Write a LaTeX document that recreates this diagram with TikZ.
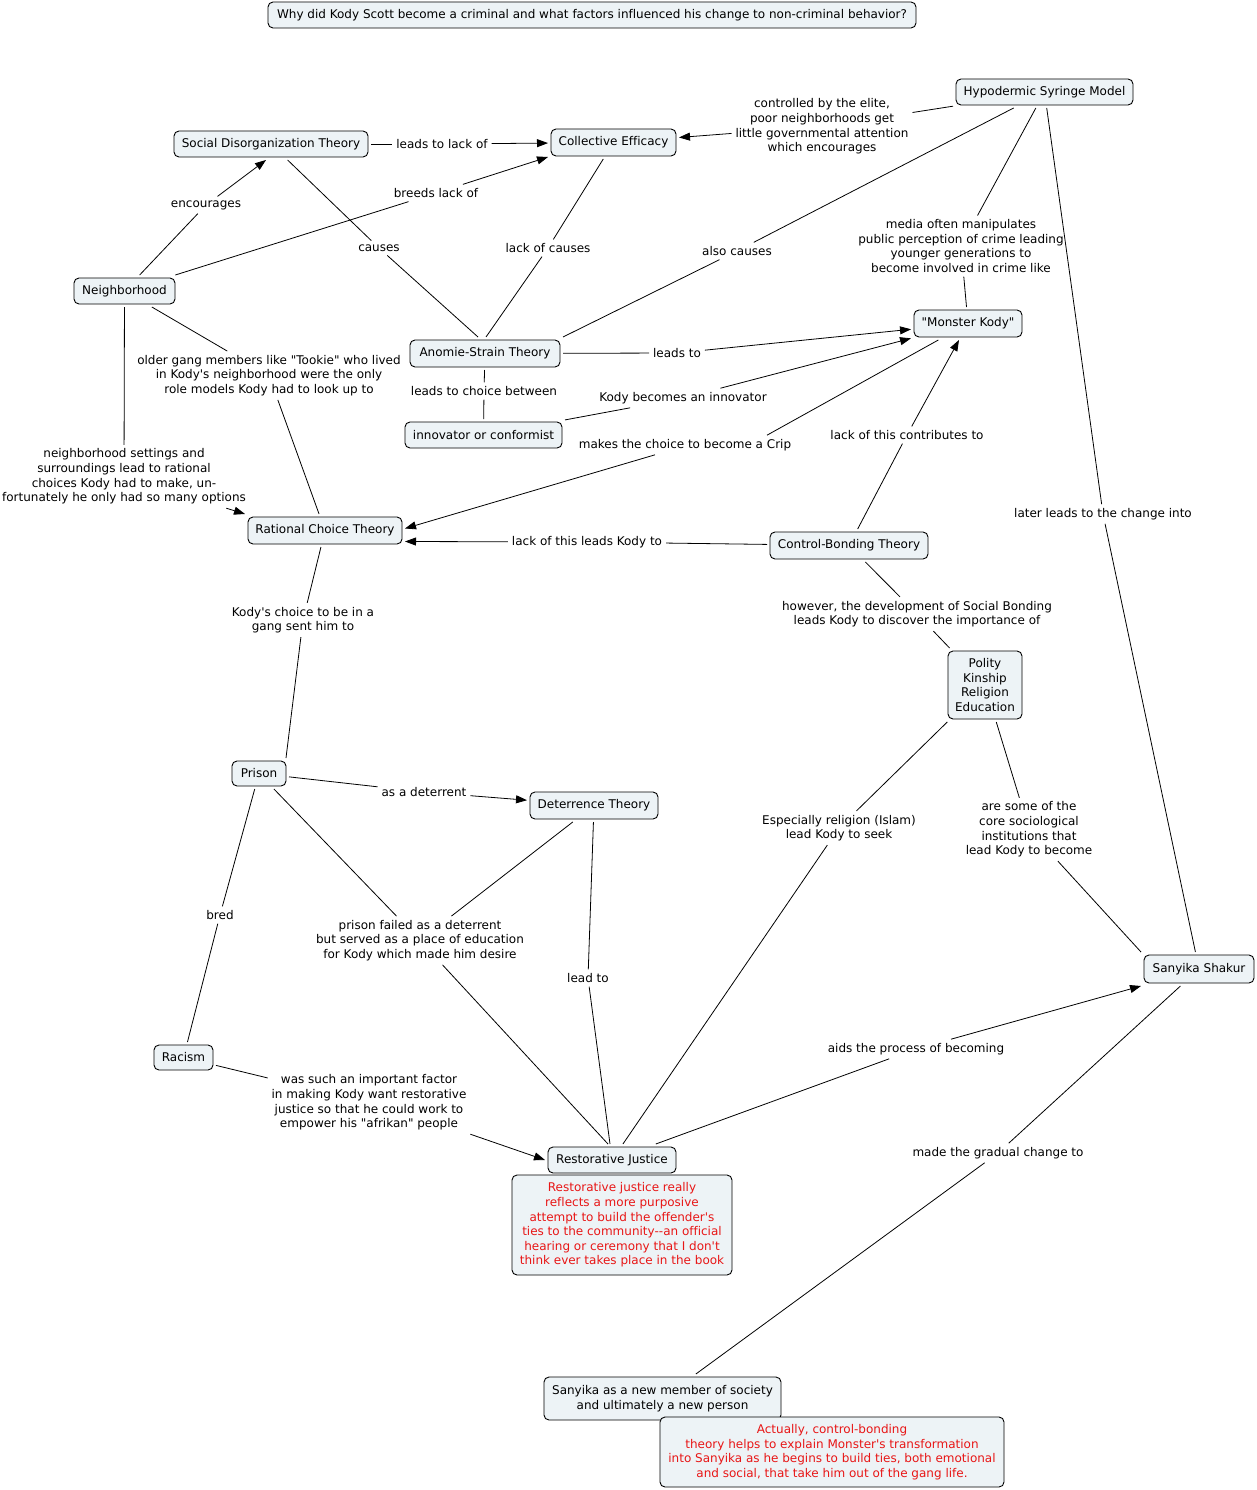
\documentclass[tikz,border=0pt]{standalone}
\usepackage{fontspec}
\setmainfont{DejaVu Sans}[Ligatures={TeXOff,CommonOff}]
\usetikzlibrary{arrows.meta}
\definecolor{nodefill}{RGB}{237,243,246}
\definecolor{notered}{RGB}{232,22,22}
\newcommand{\mapfont}{\fontsize{12}{14.6}\selectfont}
\begin{document}
\begin{tikzpicture}[x=1pt,y=-1pt,
  every node/.style={font=\mapfont},
  box/.style={draw, line width=0.9pt, rounded corners=5pt, fill=nodefill, align=center, inner sep=0pt, outer sep=3pt},
  notebox/.style={box, text=notered},
  lbl/.style={align=center, inner sep=1pt, outer sep=3pt},
  conn/.style={draw, line width=0.8pt},
  arr/.style={conn, -{Triangle[length=11pt,width=8pt]}}]
\fill[white] (0,0) rectangle (1257,1490);
\useasboundingbox (0,0) rectangle (1257,1490);

% concepts
\node[box, minimum width=648pt, minimum height=26pt] (Title) at (592,15) {Why did Kody Scott become a criminal and what factors influenced his change to non-criminal behavior?};
\node[box, minimum width=194pt, minimum height=26pt] (SDT) at (271,144) {Social Disorganization Theory};
\node[box, minimum width=125pt, minimum height=27pt] (CE) at (613.5,142.5) {Collective Efficacy};
\node[box, minimum width=177pt, minimum height=26pt] (Hypo) at (1044.5,92) {Hypodermic Syringe Model};
\node[box, minimum width=101pt, minimum height=26pt] (Nb) at (124.5,291) {Neighborhood};
\node[box, minimum width=150pt, minimum height=27pt] (Anom) at (485,353.5) {Anomie-Strain Theory};
\node[box, minimum width=108pt, minimum height=27pt] (Mon) at (968,323.5) {"Monster Kody"};
\node[box, minimum width=157pt, minimum height=26pt] (Inn) at (483.5,435) {innovator or conformist};
\node[box, minimum width=154pt, minimum height=27pt] (RCT) at (325,530.5) {Rational Choice Theory};
\node[box, minimum width=158pt, minimum height=27pt] (CBT) at (849,545.5) {Control-Bonding Theory};
\node[box, minimum width=74pt, minimum height=68pt] (Pol) at (985,685) {Polity\\Kinship\\Religion\\Education};
\node[box, minimum width=54pt, minimum height=25pt] (Prison) at (259,773.5) {Prison};
\node[box, minimum width=128pt, minimum height=27pt] (Det) at (594,805.5) {Deterrence Theory};
\node[box, minimum width=59pt, minimum height=25pt] (Rac) at (183.5,1057.5) {Racism};
\node[box, minimum width=110pt, minimum height=28pt] (San) at (1199,969) {Sanyika Shakur};
\node[box, minimum width=128pt, minimum height=26pt] (RJ) at (612,1160) {Restorative Justice};
\node[notebox, minimum width=220pt, minimum height=100pt] (RJnote) at (622,1225) {Restorative justice really\\reflects a more purposive\\attempt to build the offender's\\ties to the community--an official\\hearing or ceremony that I don't\\think ever takes place in the book};
\node[box, minimum width=237pt, minimum height=43pt] (SanNew) at (662.5,1398.5) {Sanyika as a new member of society\\and ultimately a new person};
\node[notebox, minimum width=344pt, minimum height=70pt] (CBnote) at (832,1452) {Actually, control-bonding\\theory helps to explain Monster's transformation\\into Sanyika as he begins to build ties, both emotional\\and social, that take him out of the gang life.};

% linking phrases
\node[lbl] (l1) at (442,144) {leads to lack of};
\node[lbl] (l2) at (822,126.5) {controlled by the elite,\\poor neighborhoods get\\little governmental attention\\which encourages};
\node[lbl] (l3) at (206,205) {encourages};
\node[lbl] (l4) at (436,193) {breeds lack of};
\node[lbl] (l5) at (379,248) {causes};
\node[lbl] (l6) at (548,248) {lack of causes};
\node[lbl] (l7) at (737,251) {also causes};
\node[lbl] (l8) at (961,246) {media often manipulates\\public perception of crime leading\\younger generations to\\become involved in crime like};
\node[lbl] (l9) at (1103,514) {later leads to the change into};
\node[lbl] (l10) at (269,375.5) {older gang members like "Tookie" who lived\\in Kody's neighborhood were the only\\role models Kody had to look up to};
\node[lbl] (l11) at (124,476.5) {neighborhood settings and\\surroundings lead to rational\\choices Kody had to make, un-\\fortunately he only had so many options};
\node[lbl] (l12) at (677,353) {leads to};
\node[lbl] (l13) at (484,391) {leads to choice between};
\node[lbl] (l14) at (683,398) {Kody becomes an innovator};
\node[lbl] (l15) at (685,445) {makes the choice to become a Crip};
\node[lbl] (l16) at (907,435) {lack of this contributes to};
\node[lbl] (l17) at (587,542) {lack of this leads Kody to};
\node[lbl] (l18) at (917,614) {however, the development of Social Bonding\\leads Kody to discover the importance of};
\node[lbl] (l19) at (303,620) {Kody's choice to be in a\\gang sent him to};
\node[lbl] (l20) at (424,792) {as a deterrent};
\node[lbl] (l21) at (220,915) {bred};
\node[lbl] (l22) at (420,940.5) {prison failed as a deterrent\\but served as a place of education\\for Kody which made him desire};
\node[lbl] (l23) at (588,978) {lead to};
\node[lbl] (l24) at (839,828) {Especially religion (Islam)\\lead Kody to seek};
\node[lbl] (l25) at (1029,829.5) {are some of the\\core sociological\\institutions that\\lead Kody to become};
\node[lbl] (l26) at (369,1102.5) {was such an important factor\\in making Kody want restorative\\justice so that he could work to\\empower his "afrikan" people};
\node[lbl] (l27) at (916,1049) {aids the process of becoming};
\node[lbl] (l28) at (998,1153) {made the gradual change to};

% connectors
\draw[conn] (SDT) -- (l1); \draw[arr] (l1) -- (CE);
\draw[conn] (Hypo) -- (l2); \draw[arr] (l2) -- (CE);
\draw[conn] (Nb) -- (l3); \draw[arr] (l3) -- ([xshift=-5pt]SDT.south);
\draw[conn] (Nb) -- (l4); \draw[arr] (l4) -- ([yshift=2pt]CE.south west);
\draw[conn] (SDT) -- (l5); \draw[conn] (l5) -- ([xshift=-7pt]Anom.north);
\draw[conn] (CE) -- (l6); \draw[conn] (l6) -- ([xshift=1pt]Anom.north);
\draw[conn] (Hypo) -- (l7); \draw[conn] (l7) -- (Anom.north east);
\draw[conn] (Hypo) -- (l8); \draw[conn] (l8) -- (Mon);
\draw[conn] (Hypo) -- (l9); \draw[conn] (l9) -- (San);
\draw[conn] (Nb) -- (l10); \draw[conn] (l10) -- (RCT);
\draw[conn] (Nb) -- (l11); \draw[arr] (l11) -- (RCT.north west);
\draw[conn] (Anom) -- (l12); \draw[arr] (l12) -- (Mon);
\draw[conn] (Anom) -- (l13); \draw[conn] (l13) -- (Inn);
\draw[conn] (Inn) -- (l14); \draw[arr] (l14) -- (Mon);
\draw[conn] (Mon) -- ([xshift=82pt]l15.north); \draw[arr] ([xshift=-30pt]l15.south) -- ([yshift=2pt]RCT.east);
\draw[conn] (CBT) -- (l16); \draw[arr] (l16) -- (Mon);
\draw[conn] (CBT) -- (l17); \draw[arr] (l17) -- ([yshift=-11pt]RCT.east);
\draw[conn] (CBT) -- (l18); \draw[conn] (l18) -- (Pol);
\draw[conn] (RCT) -- (l19); \draw[conn] (l19) -- ([xshift=-3pt]Prison.north east);
\draw[conn] (Prison) -- (l20); \draw[arr] (l20) -- (Det);
\draw[conn] (Prison) -- (l21); \draw[conn] (l21) -- (Rac);
\draw[conn] (Prison) -- (l22); \draw[conn] (Det) -- (l22); \draw[conn] (l22) -- ([xshift=-4pt]RJ.north);
\draw[conn] (Det) -- (l23); \draw[conn] (l23) -- ([xshift=-2pt]RJ.north);
\draw[conn] (Pol) -- (l24); \draw[conn] (l24) -- (RJ);
\draw[conn] (Pol) -- (l25); \draw[conn] (l25) -- (San.north west);
\draw[conn] (Rac) -- (l26); \draw[arr] (l26.south east) -- (RJ.west);
\draw[conn] (RJ) -- (l27); \draw[arr] (l27) -- (San.south west);
\draw[conn] (San) -- (l28); \draw[conn] (l28) -- (SanNew);
\end{tikzpicture}
\end{document}
